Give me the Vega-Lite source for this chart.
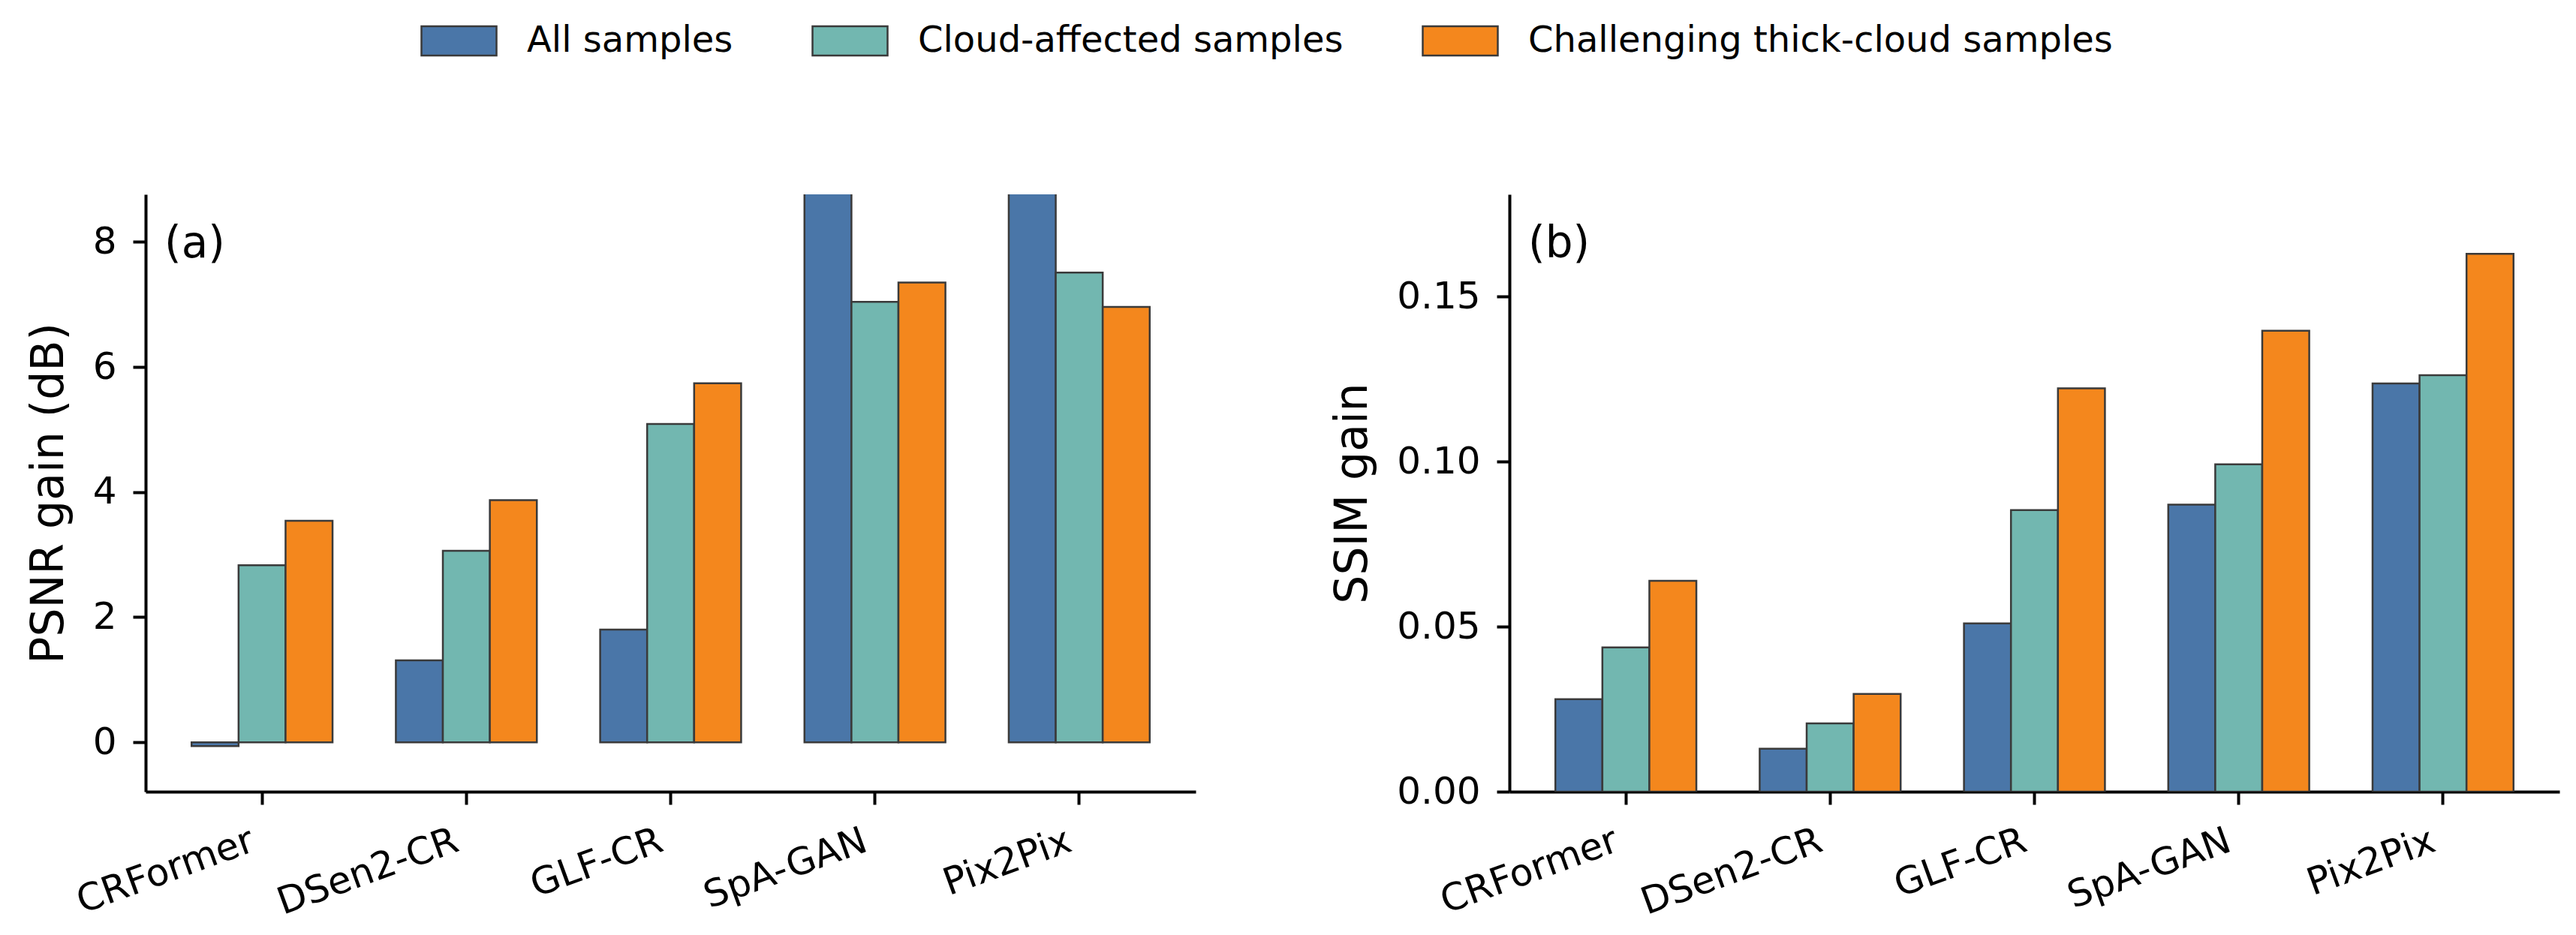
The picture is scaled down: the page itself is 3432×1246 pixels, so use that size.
{
  "$schema": "https://vega.github.io/schema/vega-lite/v6.json",
  "background": "white",
  "padding": {"left": 35, "top": 3, "right": 5, "bottom": 5},
  "bounds": "flush",
  "spacing": 418,
  "data": {
    "values": [
      {"model": "CRFormer", "group": "All samples", "psnr": -0.06, "ssim": 0.0280},
      {"model": "CRFormer", "group": "Cloud-affected samples", "psnr": 2.83, "ssim": 0.0437},
      {"model": "CRFormer", "group": "Challenging thick-cloud samples", "psnr": 3.54, "ssim": 0.0639},
      {"model": "DSen2-CR", "group": "All samples", "psnr": 1.31, "ssim": 0.0130},
      {"model": "DSen2-CR", "group": "Cloud-affected samples", "psnr": 3.06, "ssim": 0.0207},
      {"model": "DSen2-CR", "group": "Challenging thick-cloud samples", "psnr": 3.87, "ssim": 0.0296},
      {"model": "GLF-CR", "group": "All samples", "psnr": 1.80, "ssim": 0.0510},
      {"model": "GLF-CR", "group": "Cloud-affected samples", "psnr": 5.09, "ssim": 0.0853},
      {"model": "GLF-CR", "group": "Challenging thick-cloud samples", "psnr": 5.74, "ssim": 0.1222},
      {"model": "SpA-GAN", "group": "All samples", "psnr": 10.5, "ssim": 0.0870},
      {"model": "SpA-GAN", "group": "Cloud-affected samples", "psnr": 7.04, "ssim": 0.0992},
      {"model": "SpA-GAN", "group": "Challenging thick-cloud samples", "psnr": 7.35, "ssim": 0.1397},
      {"model": "Pix2Pix", "group": "All samples", "psnr": 10.8, "ssim": 0.1237},
      {"model": "Pix2Pix", "group": "Cloud-affected samples", "psnr": 7.51, "ssim": 0.1262},
      {"model": "Pix2Pix", "group": "Challenging thick-cloud samples", "psnr": 6.96, "ssim": 0.1630}
    ]
  },
  "config": {
    "font": "DejaVu Sans",
    "view": {"stroke": null},
    "axis": {
      "grid": false,
      "domainColor": "black",
      "domainWidth": 4,
      "tickColor": "black",
      "tickWidth": 4,
      "tickSize": 17,
      "labelFontSize": 50,
      "labelColor": "black",
      "labelLimit": 0,
      "labelPadding": 8,
      "titleFontSize": 60,
      "titleFontWeight": "normal",
      "titleColor": "black"
    },
    "legend": {
      "orient": "none",
      "legendX": 366,
      "legendY": -256,
      "direction": "horizontal",
      "title": null,
      "labelFontSize": 48,
      "labelColor": "black",
      "labelLimit": 0,
      "labelOffset": 39,
      "columnPadding": 100,
      "symbolType": "M-1,-0.39H1V0.39H-1Z",
      "symbolSize": 10000,
      "symbolStrokeColor": "#3a3a3a",
      "symbolStrokeWidth": 2.5,
      "symbolOpacity": 1
    },
    "title": {"fontSize": 58, "fontWeight": "normal", "color": "black"}
  },
  "hconcat": [
    {
      "width": 1399,
      "height": 796,
      "title": {"text": "(a)", "anchor": "start", "frame": "group", "orient": "top", "baseline": "top", "offset": -96, "dx": 25},
      "mark": {"type": "bar", "clip": true, "stroke": "#3a3a3a", "strokeWidth": 2.5, "opacity": 1},
      "encoding": {
        "x": {
          "field": "model", "type": "nominal",
          "sort": ["CRFormer", "DSen2-CR", "GLF-CR", "SpA-GAN", "Pix2Pix"],
          "scale": {"paddingInner": 0.31, "paddingOuter": 0.225},
          "axis": {"title": null, "labelAngle": -20, "labelAlign": "right", "labelBaseline": "top", "labelPadding": 23, "labelOffset": -21}
        },
        "xOffset": {
          "field": "group", "type": "nominal",
          "sort": ["All samples", "Cloud-affected samples", "Challenging thick-cloud samples"],
          "scale": {"paddingInner": 0, "paddingOuter": 0}
        },
        "y": {
          "field": "psnr", "type": "quantitative",
          "scale": {"domain": [-0.79, 8.76], "nice": false, "zero": false},
          "axis": {"values": [0, 2, 4, 6, 8], "title": "PSNR gain (dB)", "titlePadding": 27, "labelPadding": 22}
        },
        "color": {
          "field": "group", "type": "nominal",
          "scale": {
            "domain": ["All samples", "Cloud-affected samples", "Challenging thick-cloud samples"],
            "range": ["#4a76a8", "#72b7b0", "#f4871d"]
          }
        }
      }
    },
    {
      "width": 1399,
      "height": 796,
      "title": {"text": "(b)", "anchor": "start", "frame": "group", "orient": "top", "baseline": "top", "offset": -96, "dx": 25},
      "mark": {"type": "bar", "clip": true, "stroke": "#3a3a3a", "strokeWidth": 2.5, "opacity": 1},
      "encoding": {
        "x": {
          "field": "model", "type": "nominal",
          "sort": ["CRFormer", "DSen2-CR", "GLF-CR", "SpA-GAN", "Pix2Pix"],
          "scale": {"paddingInner": 0.31, "paddingOuter": 0.225},
          "axis": {"title": null, "labelAngle": -20, "labelAlign": "right", "labelBaseline": "top", "labelPadding": 23, "labelOffset": -21}
        },
        "xOffset": {
          "field": "group", "type": "nominal",
          "sort": ["All samples", "Cloud-affected samples", "Challenging thick-cloud samples"],
          "scale": {"paddingInner": 0, "paddingOuter": 0}
        },
        "y": {
          "field": "ssim", "type": "quantitative",
          "scale": {"domain": [0, 0.181], "nice": false},
          "axis": {"values": [0, 0.05, 0.1, 0.15], "format": ".2f", "title": "SSIM gain", "titlePadding": 27, "labelPadding": 22}
        },
        "color": {
          "field": "group", "type": "nominal",
          "scale": {
            "domain": ["All samples", "Cloud-affected samples", "Challenging thick-cloud samples"],
            "range": ["#4a76a8", "#72b7b0", "#f4871d"]
          }
        }
      }
    }
  ]
}
